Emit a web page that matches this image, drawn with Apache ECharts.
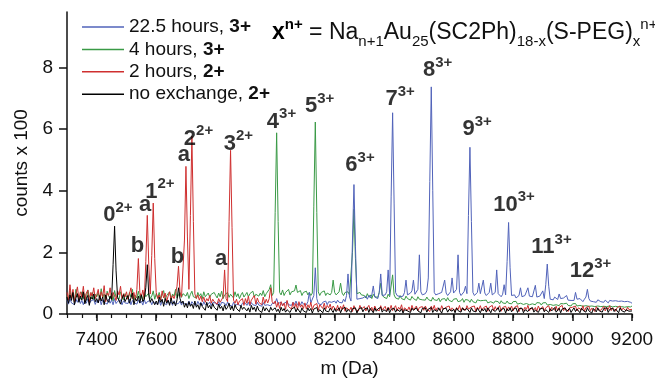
<!DOCTYPE html>
<html>
<head>
<meta charset="utf-8">
<script src="https://cdn.jsdelivr.net/npm/echarts@6/dist/echarts.min.js"></script>
<style>
html,body{margin:0;padding:0;background:#fff;}
#chart{width:655px;height:379px;}
</style>
</head>
<body>
<div id="chart"></div>
<script>
// ---------- DATA ----------
// Spectra sampled every 5 Da starting at 7300 Da (counts x 100)
const mStart = 7300;
const mStep = 5;

const seriesNames = ['22.5 hours', '4 hours', '2 hours', 'no exchange'];
const seriesCharges = ['3+', '3+', '2+', '2+'];

const blueVals = [
0.45,0.32,0.5,0.36,0.42,0.3,0.48,0.38,0.52,0.34,0.44,0.3,0.46,0.35,0.5,0.33,0.42,0.38,0.47,0.31,
0.44,0.36,0.5,0.3,0.46,0.38,0.42,0.32,0.48,0.35,0.45,0.3,0.5,0.34,0.41,0.37,0.46,0.3,0.43,0.36,
0.42,0.34,0.48,0.3,0.44,0.37,0.4,0.32,0.46,0.35,0.42,0.29,0.47,0.33,0.4,0.36,0.44,0.3,0.42,0.35,
0.4,0.32,0.45,0.28,0.42,0.35,0.38,0.3,0.44,0.33,0.4,0.28,0.43,0.32,0.38,0.34,0.42,0.29,0.4,0.33,
0.38,0.3,0.42,0.27,0.4,0.33,0.36,0.28,0.41,0.31,0.38,0.26,0.4,0.3,0.36,0.32,0.39,0.27,0.37,0.31,
0.36,0.29,0.4,0.26,0.38,0.32,0.35,0.27,0.39,0.3,0.36,0.25,0.38,0.29,0.34,0.31,0.37,0.26,0.35,0.3,
0.35,0.28,0.38,0.26,0.37,0.3,0.34,0.27,0.38,0.29,0.35,0.25,0.37,0.28,0.34,0.3,0.36,0.26,0.34,0.29,
0.36,0.5,0.34,0.3,0.38,0.28,0.35,0.32,0.4,0.3,0.36,0.28,0.38,0.31,0.42,0.3,0.36,0.29,0.4,0.32,
0.38,0.3,0.4,0.7,0.36,0.32,0.6,1.5,0.5,0.34,0.4,0.3,0.38,0.33,0.42,0.3,0.4,0.35,0.38,0.32,
0.42,0.35,0.45,0.38,0.44,0.36,0.48,0.4,0.6,1.3,0.55,0.42,2.4,4.2,2.2,0.48,0.42,0.5,0.44,0.52,
0.5,0.58,0.48,0.6,0.52,0.62,0.91,0.55,0.6,0.5,0.7,1.3,0.6,0.55,0.62,0.72,1.43,0.62,3.8,6.53,
3.6,0.7,0.6,0.65,0.56,0.62,0.58,0.7,1.1,0.62,0.6,0.68,0.75,1.1,0.64,0.6,0.8,1.92,0.72,0.62,
0.6,0.66,0.75,1.17,4.3,7.37,4.0,0.7,0.62,0.58,0.66,0.6,0.7,0.64,1.1,0.68,0.6,0.64,0.72,1.17,
0.68,0.62,0.8,1.92,0.7,0.6,0.64,0.72,0.9,0.66,3.2,5.41,3.0,0.7,0.6,0.64,0.7,1.0,0.66,0.62,
1.1,0.68,0.6,0.64,0.7,1.0,0.62,0.58,0.7,1.43,0.66,0.6,0.56,0.64,0.95,0.62,1.7,2.97,1.5,0.6,
0.56,0.62,0.52,0.58,0.6,0.85,0.56,0.5,0.6,0.54,0.85,0.58,0.52,0.56,0.6,0.93,0.55,0.5,0.58,0.52,
0.75,0.5,0.95,1.62,0.9,0.48,0.52,0.46,0.55,0.5,0.47,0.65,0.5,0.44,0.52,0.46,0.6,0.45,0.5,0.44,
0.5,0.44,0.7,0.48,0.42,0.5,0.45,0.4,0.48,0.55,0.8,0.5,0.42,0.46,0.4,0.45,0.38,0.46,0.42,0.4,
0.44,0.38,0.45,0.4,0.36,0.44,0.39,0.42,0.36,0.43,0.38,0.41,0.35,0.42,0.37,0.4,0.34,0.41,0.36,0.38,
0.35];

const greenVals = [
0.6,0.45,0.75,0.52,0.68,0.4,0.8,0.55,0.62,0.48,0.72,0.5,0.66,0.44,0.78,0.58,0.5,0.7,0.46,0.64,
0.55,0.7,0.48,0.82,0.52,0.65,0.45,0.74,0.58,0.5,0.68,0.42,0.76,0.54,0.6,0.48,0.72,0.56,0.46,0.66,
0.62,0.48,0.7,0.55,0.8,0.46,0.6,0.52,0.74,0.5,0.64,0.44,0.72,0.56,0.6,0.68,0.5,0.58,0.75,0.48,
0.66,0.52,0.7,0.5,0.62,0.76,0.48,0.6,0.55,0.72,0.5,0.65,0.58,0.8,0.52,0.62,0.7,0.54,0.66,0.6,
0.58,0.7,0.5,0.64,0.74,0.56,0.62,0.52,0.7,0.58,0.66,0.5,0.72,0.56,0.6,0.68,0.54,0.64,0.58,0.7,
0.6,0.52,0.68,0.56,0.74,0.5,0.62,0.58,0.7,0.54,0.64,0.6,0.52,0.72,0.56,0.66,0.5,0.62,0.7,0.55,
0.62,0.7,0.56,0.66,0.6,0.74,0.55,0.64,0.7,0.58,0.68,0.6,0.76,0.56,0.66,0.62,0.8,0.95,0.6,0.7,
3.3,5.88,3.0,0.7,0.62,0.78,0.6,0.7,0.66,0.8,0.62,0.72,0.68,0.75,0.94,0.7,0.64,0.76,0.6,0.7,
0.66,0.74,0.62,0.7,0.6,0.68,3.5,6.23,3.3,0.72,0.6,0.7,0.64,0.75,0.6,0.68,0.72,0.62,0.7,1.1,
0.7,0.62,0.66,0.72,1.0,0.68,0.6,0.7,0.64,0.72,0.62,0.66,2.0,3.4,1.8,0.66,0.6,0.7,0.62,0.68,
0.6,0.52,0.66,0.55,0.62,0.5,0.64,0.56,0.6,0.54,0.7,1.0,0.62,0.55,0.6,0.5,0.64,0.56,0.62,1.27,
0.62,0.52,0.56,0.48,0.6,0.5,0.55,0.46,0.58,0.5,0.54,0.45,0.57,0.5,0.52,0.44,0.56,0.48,0.53,0.46,
0.52,0.45,0.55,0.47,0.5,0.42,0.54,0.46,0.5,0.44,0.52,0.4,0.48,0.45,0.5,0.42,0.53,0.44,0.48,0.4,
0.48,0.42,0.5,0.4,0.46,0.43,0.5,0.38,0.47,0.42,0.45,0.38,0.48,0.4,0.44,0.36,0.46,0.4,0.43,0.37,
0.44,0.38,0.45,0.36,0.42,0.4,0.44,0.35,0.42,0.37,0.4,0.33,0.43,0.36,0.4,0.34,0.42,0.35,0.38,0.33,
0.4,0.34,0.41,0.32,0.38,0.35,0.4,0.31,0.37,0.34,0.39,0.3,0.36,0.33,0.38,0.3,0.37,0.32,0.36,0.29,
0.36,0.3,0.37,0.29,0.35,0.31,0.36,0.28,0.34,0.3,0.35,0.27,0.34,0.29,0.33,0.27,0.35,0.28,0.32,0.26,
0.33,0.27,0.34,0.26,0.32,0.28,0.33,0.25,0.31,0.27,0.32,0.25,0.3,0.26,0.31,0.24,0.3,0.26,0.29,0.24,
0.3,0.25,0.31,0.24,0.29,0.26,0.3,0.23,0.28,0.25,0.29,0.23,0.28,0.24,0.29,0.22,0.28,0.24,0.27,0.23,
0.26];

const redVals = [
0.7,0.45,0.95,0.5,0.8,0.4,0.65,0.88,0.48,0.72,0.55,0.9,0.42,0.68,0.78,0.38,0.7,0.58,0.85,0.5,
0.62,0.8,0.45,0.72,0.55,0.92,0.4,0.68,0.6,0.85,0.48,0.7,0.58,0.44,0.75,0.62,0.9,0.5,0.66,0.55,
0.72,0.48,0.65,0.85,0.5,0.7,0.45,0.8,1.8,0.7,0.55,0.78,0.48,1.7,3.2,1.6,0.65,1.9,3.6,1.8,
0.7,0.5,0.62,0.45,0.75,0.52,0.68,0.4,0.58,0.72,0.46,0.6,0.5,0.66,0.9,1.55,0.7,0.55,0.6,2.4,
4.79,2.5,0.8,3.2,5.77,3.0,0.65,0.5,0.62,0.45,0.58,0.4,0.55,0.38,0.5,0.42,0.6,0.35,0.48,0.4,
0.45,0.32,0.5,0.38,0.42,0.55,1.43,0.5,0.4,3.0,5.31,2.8,0.45,0.35,0.48,0.3,0.42,0.36,0.5,0.28,
0.5,0.35,0.58,0.3,0.45,0.4,0.6,0.32,0.52,0.38,0.44,0.3,0.55,0.34,0.48,0.36,0.5,0.85,0.4,0.33,
0.42,0.22,0.38,0.18,0.4,0.26,0.35,0.15,0.44,0.24,0.3,0.16,0.38,0.2,0.34,0.14,0.4,0.22,0.3,0.18,
0.36,0.16,0.3,0.2,0.38,0.14,0.28,0.22,0.34,0.12,0.3,0.24,0.18,0.35,0.15,0.28,0.2,0.32,0.13,0.26,
0.22,0.12,0.28,0.1,0.25,0.15,0.3,0.09,0.2,0.26,0.12,0.22,0.08,0.27,0.14,0.2,0.1,0.28,0.16,0.12,
0.24,0.1,0.2,0.28,0.12,0.22,0.08,0.26,0.15,0.2,0.1,0.27,0.13,0.18,0.25,0.09,0.22,0.14,0.28,0.11,
0.2,0.27,0.1,0.22,0.15,0.3,0.08,0.2,0.25,0.12,0.23,0.09,0.28,0.14,0.19,0.26,0.1,0.21,0.15,0.24,
0.12,0.26,0.16,0.22,0.08,0.25,0.14,0.28,0.1,0.2,0.24,0.11,0.27,0.15,0.09,0.22,0.18,0.26,0.1,0.2,
0.25,0.1,0.21,0.14,0.28,0.09,0.2,0.24,0.12,0.27,0.16,0.1,0.23,0.18,0.26,0.08,0.22,0.15,0.27,0.11,
0.2,0.14,0.26,0.09,0.22,0.18,0.28,0.1,0.24,0.13,0.2,0.27,0.09,0.21,0.16,0.25,0.11,0.23,0.14,0.26,
0.1,0.22,0.16,0.27,0.08,0.2,0.25,0.12,0.22,0.15,0.28,0.1,0.19,0.24,0.13,0.21,0.09,0.26,0.15,0.2,
0.24,0.11,0.2,0.15,0.27,0.09,0.22,0.18,0.12,0.25,0.1,0.21,0.16,0.28,0.11,0.19,0.23,0.08,0.2,0.14,
0.22,0.16,0.26,0.1,0.2,0.24,0.13,0.27,0.09,0.21,0.15,0.25,0.11,0.19,0.22,0.08,0.24,0.14,0.2,0.12,
0.18,0.25,0.1,0.22,0.15,0.27,0.11,0.2,0.24,0.09,0.21,0.16,0.26,0.12,0.19,0.23,0.1,0.22,0.14,0.2,
0.15];

const blackVals = [
0.55,0.35,0.62,0.44,0.7,0.3,0.52,0.66,0.38,0.58,0.45,0.72,0.33,0.5,0.6,0.28,0.55,0.48,0.65,0.4,
0.5,0.36,0.6,0.42,0.55,0.3,0.62,0.45,0.38,0.58,0.47,1.6,2.85,1.4,0.55,0.6,0.32,0.5,0.63,0.4,
0.45,0.6,0.35,0.52,0.68,0.3,0.5,0.42,0.58,0.36,0.62,0.4,0.48,0.85,1.6,0.6,0.38,0.5,0.55,0.3,
0.42,0.3,0.55,0.38,0.48,0.25,0.5,0.35,0.45,0.28,0.52,0.32,0.4,0.26,0.46,0.85,0.5,0.35,0.42,0.22,
0.35,0.2,0.4,0.25,0.32,0.18,0.42,0.22,0.3,0.15,0.36,0.24,0.3,0.12,0.38,0.2,0.28,0.16,0.34,0.22,
0.28,0.12,0.32,0.18,0.25,0.1,0.3,0.15,0.22,0.35,0.14,0.26,0.1,0.3,0.18,0.24,0.08,0.28,0.15,0.22,
0.25,0.1,0.2,0.06,0.28,0.14,0.22,0.08,0.26,0.12,0.18,0.05,0.24,0.1,0.2,0.15,0.06,0.22,0.12,0.18,
0.2,0.08,0.16,0.04,0.22,0.1,0.18,0.06,0.14,0.2,0.05,0.16,0.1,0.22,0.07,0.18,0.12,0.04,0.2,0.1,
0.15,0.05,0.2,0.1,0.18,0.03,0.16,0.12,0.21,0.06,0.14,0.18,0.04,0.2,0.1,0.15,0.07,0.19,0.12,0.05,
0.18,0.08,0.14,0.2,0.04,0.16,0.1,0.22,0.06,0.15,0.19,0.05,0.17,0.11,0.2,0.03,0.15,0.09,0.21,0.07,
0.16,0.1,0.2,0.05,0.18,0.12,0.04,0.2,0.09,0.16,0.13,0.22,0.06,0.14,0.18,0.08,0.2,0.04,0.15,0.11,
0.19,0.06,0.15,0.21,0.08,0.17,0.03,0.14,0.2,0.1,0.16,0.05,0.19,0.12,0.07,0.2,0.1,0.16,0.04,0.18,
0.12,0.2,0.06,0.16,0.1,0.21,0.05,0.14,0.18,0.08,0.2,0.11,0.03,0.17,0.13,0.19,0.06,0.15,0.21,0.09,
0.16,0.04,0.19,0.11,0.17,0.06,0.2,0.12,0.08,0.18,0.14,0.05,0.2,0.1,0.16,0.07,0.19,0.13,0.04,0.17,
0.1,0.18,0.06,0.2,0.13,0.04,0.16,0.19,0.08,0.14,0.21,0.06,0.15,0.11,0.18,0.03,0.17,0.1,0.2,0.07,
0.15,0.09,0.2,0.05,0.17,0.12,0.19,0.04,0.14,0.2,0.08,0.16,0.11,0.21,0.06,0.13,0.18,0.05,0.16,0.1,
0.19,0.07,0.14,0.2,0.05,0.17,0.1,0.15,0.21,0.06,0.12,0.19,0.04,0.16,0.1,0.2,0.08,0.14,0.18,0.05,
0.13,0.2,0.08,0.16,0.11,0.04,0.19,0.12,0.17,0.06,0.2,0.1,0.15,0.03,0.18,0.12,0.07,0.2,0.1,0.16,
0.06,0.18,0.12,0.2,0.05,0.15,0.1,0.19,0.08,0.16,0.13,0.04,0.2,0.11,0.17,0.06,0.14,0.19,0.09,0.15,
0.1];

// Peak annotations (label text, superscript, position in data units)
const peakLabelMain = ['0','a','1','b','b','a','2','a','3','4','5','6','7','8','9','10','11','12'];
const peakLabelSup  = ['2+','','2+','','','','2+','','2+','3+','3+','3+','3+','3+','3+','3+','3+','3+'];
const peakLabelM    = [7473,7564,7614,7539,7673,7695,7744,7820,7878,8023,8151,8287,8422,8548,8681,8805,8931,9062];
const peakLabelV    = [3.20,3.53,3.95,2.19,1.83,5.15,5.67,1.77,5.51,6.23,6.73,4.81,6.96,7.89,5.98,3.53,2.16,1.38];

// Axis ticks
const xTickLabels = [7400,7600,7800,8000,8200,8400,8600,8800,9000,9200];
const xMinorTicks = [7300,7350,7400,7450,7500,7550,7600,7650,7700,7750,7800,7850,7900,7950,8000,8050,8100,8150,8200,8250,8300,8350,8400,8450,8500,8550,8600,8650,8700,8750,8800,8850,8900,8950,9000,9050,9100,9150,9200];
const yTickLabels = [0,2,4,6,8];

// ---------- CHART ----------
const FONT = '"Liberation Sans", Arial, Helvetica, sans-serif';
const colors = ['#5163ba', '#3a9a46', '#cf2f2f', '#000000'];

function toPairs(vals) { return vals.map((v, i) => [mStart + mStep * i, v]); }

const valsBySeries = [blueVals, greenVals, redVals, blackVals];
const drawOrder = [1, 0, 2, 3];

const lineSeries = drawOrder.map(k => ({
  name: seriesNames[k],
  type: 'line',
  data: toPairs(valsBySeries[k]),
  showSymbol: false,
  symbol: 'none',
  lineStyle: { color: colors[k], width: 1 },
  itemStyle: { color: colors[k] },
  silent: true,
  z: 2
}));

const labelSeries = {
  name: 'peakLabels',
  type: 'scatter',
  data: peakLabelM.map((m, i) => [m, peakLabelV[i]]),
  symbolSize: 1,
  itemStyle: { color: 'rgba(0,0,0,0)' },
  silent: true,
  z: 10,
  label: {
    show: true,
    position: [0, 0],
    align: 'center',
    verticalAlign: 'middle',
    color: '#000',
    formatter: p => {
      const i = p.dataIndex;
      return '{d|' + peakLabelMain[i] + '}' + (peakLabelSup[i] ? '{s|' + peakLabelSup[i] + '}' : '');
    },
    rich: {
      d: { fontSize: 22, fontWeight: 'bold', fontFamily: FONT, color: '#000', lineHeight: 30, verticalAlign: 'middle' },
      s: { fontSize: 15, fontWeight: 'bold', fontFamily: FONT, color: '#000', lineHeight: 15, verticalAlign: 'top' }
    }
  }
};

const chart = echarts.init(document.getElementById('chart'), null, { renderer: 'canvas' });

const option = {
  animation: false,
  backgroundColor: '#fff',
  grid: { left: 67, right: 23, top: 12, bottom: 65, containLabel: false, outerBoundsMode: 'none' },
  legend: {
    data: seriesNames.map(n => ({ name: n, icon: 'rect' })),
    orient: 'vertical',
    left: 77,
    top: 11,
    itemWidth: 42,
    itemHeight: 1.5,
    itemGap: 0.4,
    selectedMode: false,
    textStyle: {
      fontSize: 19,
      fontFamily: FONT,
      color: '#111',
      lineHeight: 22,
      rich: {
        n: { fontSize: 19, fontFamily: FONT, color: '#111', lineHeight: 22 },
        b: { fontSize: 19, fontFamily: FONT, color: '#111', fontWeight: 'bold', lineHeight: 22 }
      }
    },
    formatter: name => {
      const k = seriesNames.indexOf(name);
      return '{n|' + name + ', }{b|' + seriesCharges[k] + '}';
    }
  },
  graphic: [{
    type: 'text',
    left: 272,
    top: 17,
    silent: true,
    style: {
      text: '{xb|x}{supb|n+}{m| = Na}{sub|n+1}{m|Au}{sub|25}{m|(SC2Ph)}{sub|18-x}{m|(S-PEG)}{sub|x}{sup|n+}',
      rich: {
        xb: { fontSize: 23, fontWeight: 'bold', fontFamily: FONT, fill: '#000', lineHeight: 32, verticalAlign: 'middle' },
        m: { fontSize: 23, fontFamily: FONT, fill: '#111', lineHeight: 32, verticalAlign: 'middle' },
        supb: { fontSize: 15, fontFamily: FONT, fill: '#000', lineHeight: 15, verticalAlign: 'top', fontWeight: 'bold' },
        sup: { fontSize: 15, fontFamily: FONT, fill: '#111', lineHeight: 15, verticalAlign: 'top' },
        sub: { fontSize: 15, fontFamily: FONT, fill: '#111', lineHeight: 15, verticalAlign: 'bottom' }
      }
    }
  }],
  xAxis: [{
    type: 'value',
    min: 7300,
    max: 9200,
    name: 'm (Da)',
    nameLocation: 'middle',
    nameGap: 45,
    nameTextStyle: { fontSize: 19, fontFamily: FONT, color: '#111' },
    axisLine: { show: true, lineStyle: { color: '#111', width: 1.5 } },
    axisTick: { show: true, length: 7, customValues: xTickLabels, lineStyle: { color: '#111', width: 1.5 } },
    axisLabel: { show: true, customValues: xTickLabels, margin: 16, fontSize: 19, fontFamily: FONT, color: '#111', formatter: v => String(v) },
    splitLine: { show: false }
  }, {
    type: 'value',
    min: 7300,
    max: 9200,
    position: 'bottom',
    axisLine: { show: false },
    axisTick: { show: true, length: 4, customValues: xMinorTicks, lineStyle: { color: '#111', width: 1.2 } },
    axisLabel: { show: false },
    splitLine: { show: false }
  }],
  yAxis: {
    type: 'value',
    min: 0,
    max: 9.8,
    name: 'counts x 100',
    nameLocation: 'middle',
    nameGap: 31,
    nameTextStyle: { fontSize: 19, fontFamily: FONT, color: '#111' },
    axisLine: { show: true, lineStyle: { color: '#111', width: 1.5 } },
    axisTick: { show: true, length: 8, customValues: yTickLabels, lineStyle: { color: '#111', width: 1.5 } },
    axisLabel: { show: true, customValues: yTickLabels, margin: 14, fontSize: 19, fontFamily: FONT, color: '#111' },
    splitLine: { show: false }
  },
  series: lineSeries.concat([labelSeries])
};

chart.setOption(option);
</script>
</body>
</html>
